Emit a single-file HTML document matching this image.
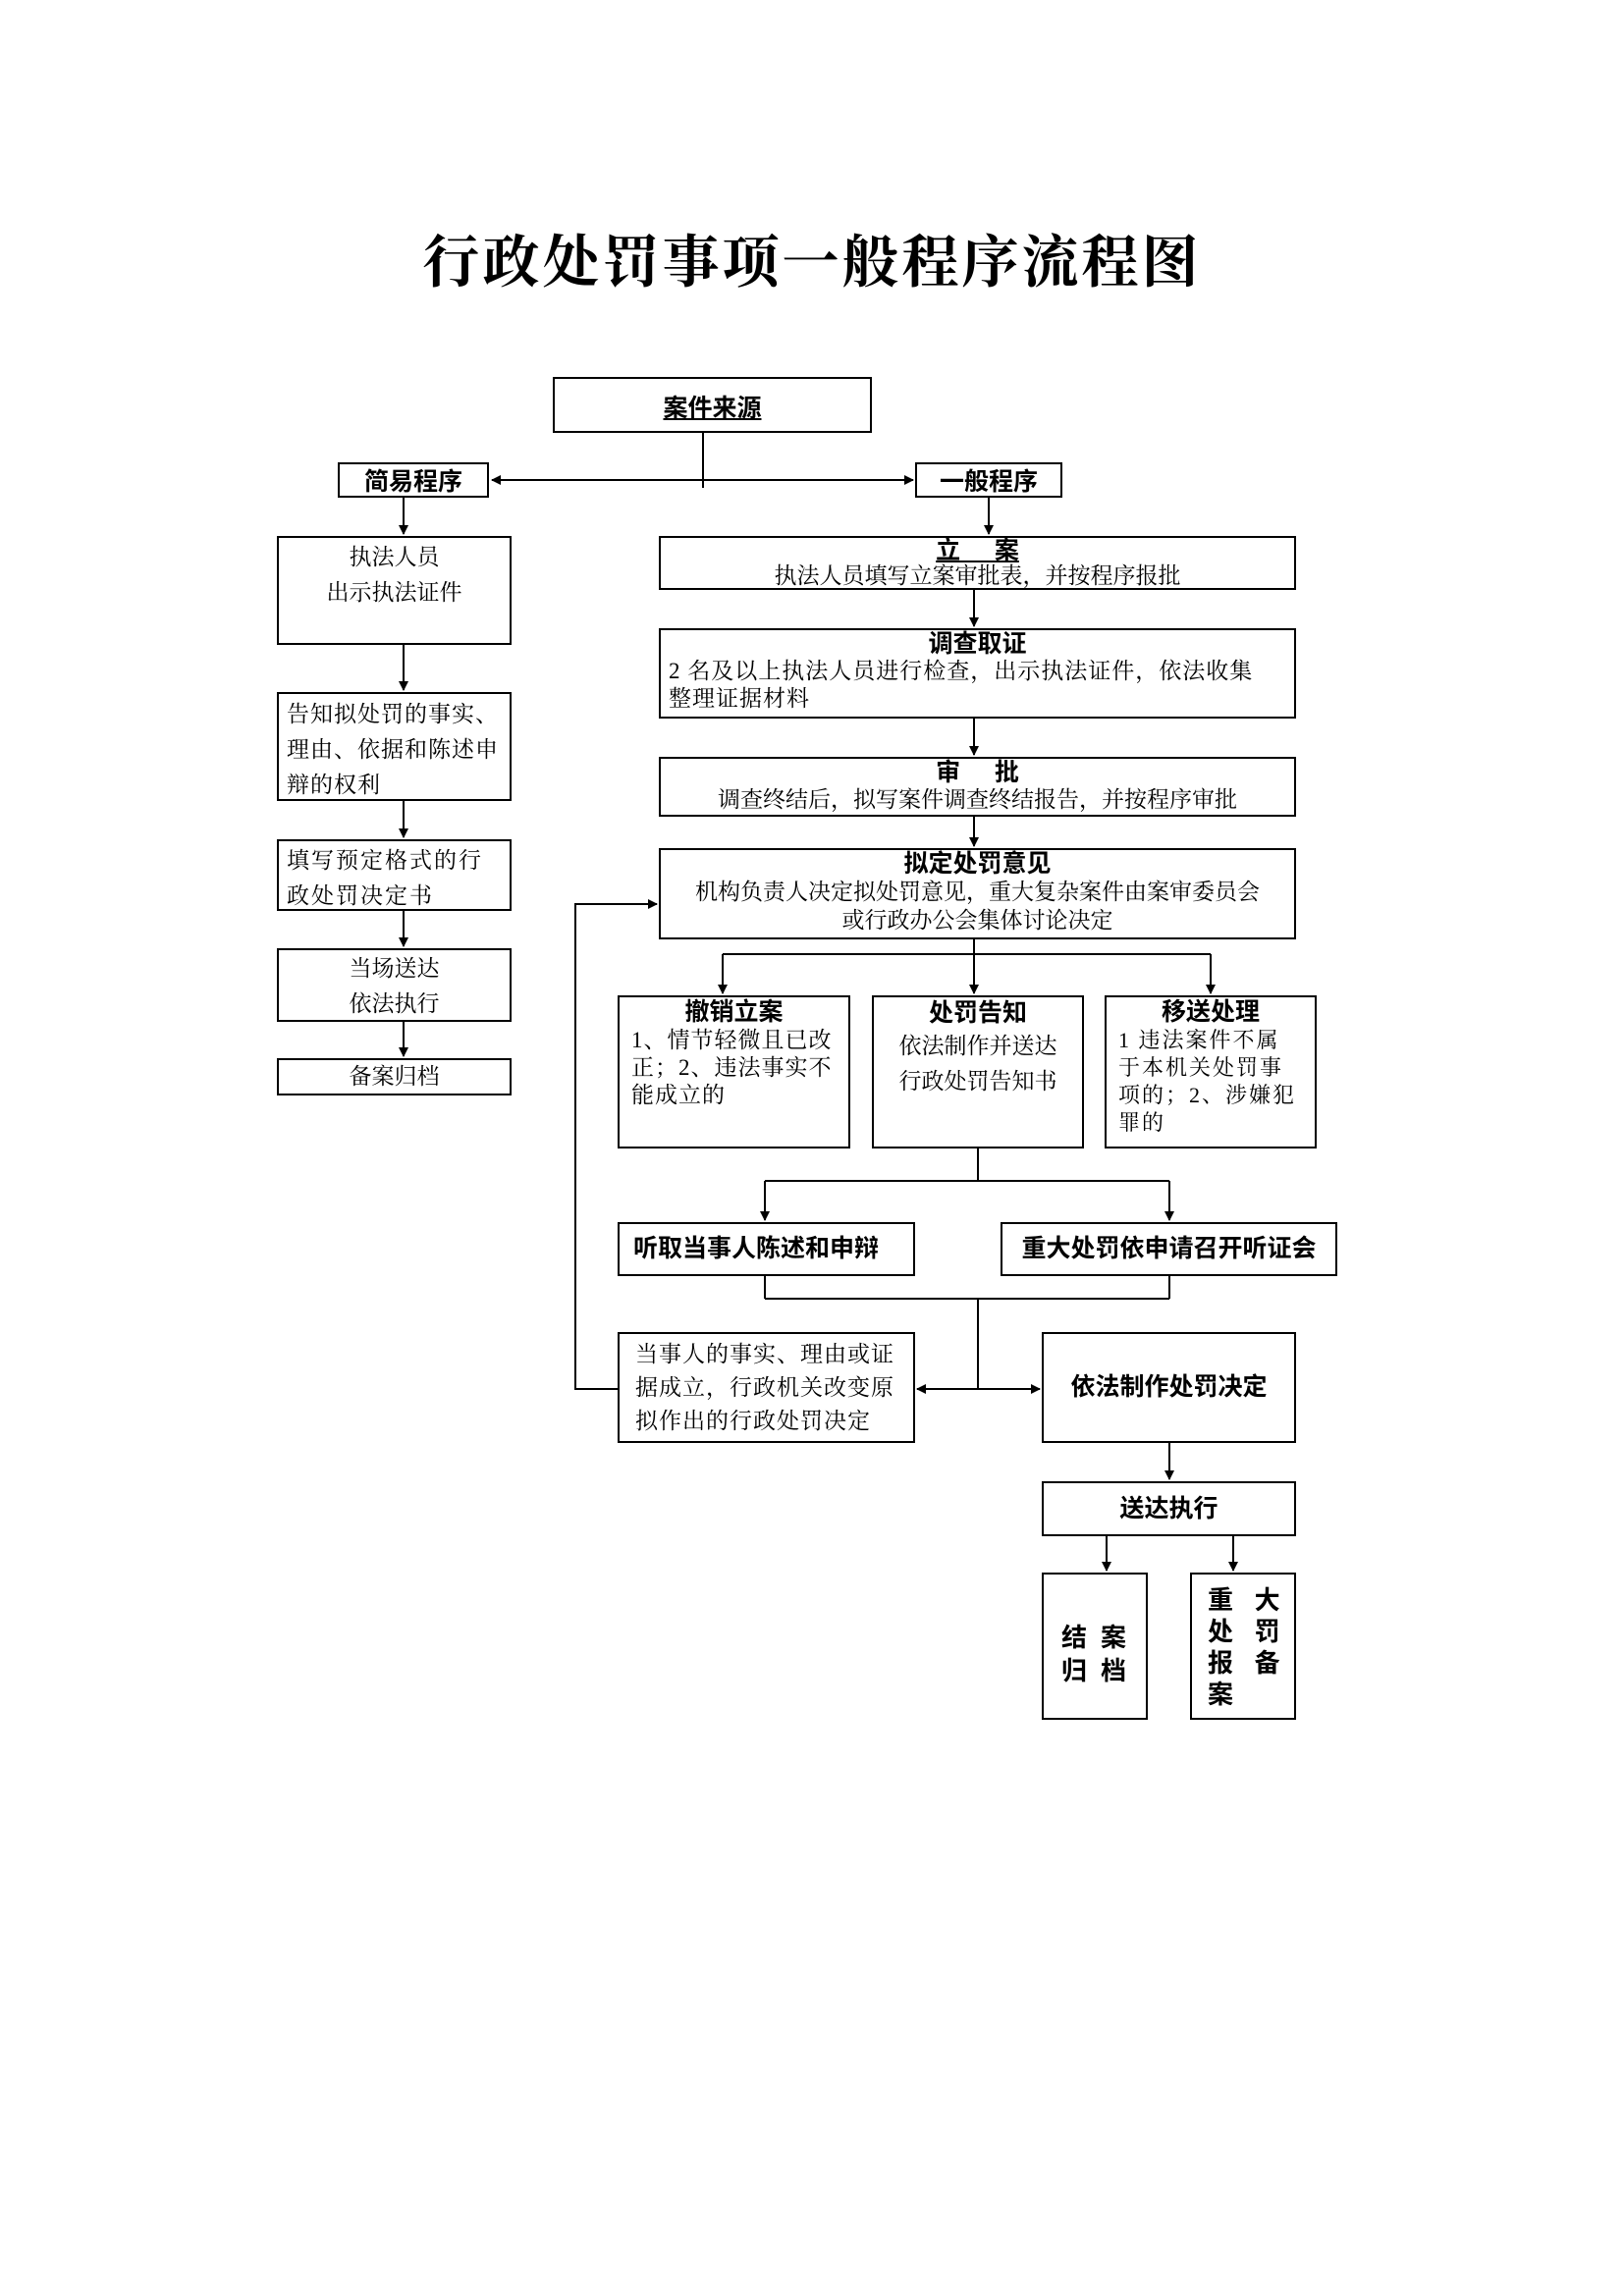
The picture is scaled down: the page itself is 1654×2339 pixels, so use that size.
<!DOCTYPE html>
<html><head><meta charset="utf-8">
<style>
body{margin:0;background:#fff;}
#pg{position:relative;width:1654px;height:2339px;background:#fff;overflow:hidden;font-family:"Liberation Serif","Noto Serif CJK SC",serif;color:#000;}
#in{position:absolute;left:-4px;top:-3px;width:1654px;height:2339px;}
.b{position:absolute;border:2px solid #000;box-sizing:border-box;background:#fff;}
.t{position:absolute;white-space:nowrap;}
.h{font-family:"Liberation Sans","Noto Sans CJK SC",sans-serif;font-weight:bold;}
.c{text-align:center;}
</style></head><body><div id="pg">
<div class="t" style="left:0;width:1654px;top:220px;font-size:58px;letter-spacing:3px;font-weight:bold;text-align:center;font-family:'Liberation Serif','Noto Serif CJK SC',serif;">行政处罚事项一般程序流程图</div>
<div id="in">
<svg style="position:absolute;left:0;top:0" width="1654" height="2339">
<defs><marker id="a" markerWidth="10" markerHeight="10" refX="9" refY="5" orient="auto" markerUnits="userSpaceOnUse"><path d="M0,0 L10,5 L0,10 z"/></marker></defs>
<g stroke="#000" stroke-width="2" fill="none">
<line x1="720" y1="444" x2="720" y2="500"/>
<line x1="720" y1="492" x2="505" y2="492" marker-end="url(#a)"/>
<line x1="720" y1="492" x2="934" y2="492" marker-end="url(#a)"/>
<line x1="415" y1="510" x2="415" y2="547" marker-end="url(#a)"/>
<line x1="415" y1="660" x2="415" y2="706" marker-end="url(#a)"/>
<line x1="415" y1="819" x2="415" y2="856" marker-end="url(#a)"/>
<line x1="415" y1="931" x2="415" y2="967" marker-end="url(#a)"/>
<line x1="415" y1="1044" x2="415" y2="1079" marker-end="url(#a)"/>
<line x1="1011" y1="510" x2="1011" y2="547" marker-end="url(#a)"/>
<line x1="996" y1="604" x2="996" y2="641" marker-end="url(#a)"/>
<line x1="996" y1="735" x2="996" y2="772" marker-end="url(#a)"/>
<line x1="996" y1="835" x2="996" y2="865" marker-end="url(#a)"/>
<line x1="996" y1="960" x2="996" y2="975"/>
<line x1="740" y1="975" x2="1237" y2="975"/>
<line x1="740" y1="975" x2="740" y2="1015" marker-end="url(#a)"/>
<line x1="996" y1="975" x2="996" y2="1015" marker-end="url(#a)"/>
<line x1="1237" y1="975" x2="1237" y2="1015" marker-end="url(#a)"/>
<line x1="1000" y1="1173" x2="1000" y2="1206"/>
<line x1="783" y1="1206" x2="1195" y2="1206"/>
<line x1="783" y1="1206" x2="783" y2="1246" marker-end="url(#a)"/>
<line x1="1195" y1="1206" x2="1195" y2="1246" marker-end="url(#a)"/>
<line x1="783" y1="1303" x2="783" y2="1326"/>
<line x1="1195" y1="1303" x2="1195" y2="1326"/>
<line x1="783" y1="1326" x2="1195" y2="1326"/>
<line x1="1000" y1="1326" x2="1000" y2="1418"/>
<line x1="1000" y1="1418" x2="938" y2="1418" marker-end="url(#a)"/>
<line x1="1000" y1="1418" x2="1063" y2="1418" marker-end="url(#a)"/>
<polyline points="633,1418 590,1418 590,924 673,924" marker-end="url(#a)"/>
<line x1="1195" y1="1473" x2="1195" y2="1510" marker-end="url(#a)"/>
<line x1="1131" y1="1568" x2="1131" y2="1603" marker-end="url(#a)"/>
<line x1="1260" y1="1568" x2="1260" y2="1603" marker-end="url(#a)"/>
</g></svg>

<div class="b" style="left:567px;top:387px;width:325px;height:57px;"><div class="t h c" style="left:0;right:0;top:10px;font-size:25px;text-decoration:underline;">案件来源</div></div>
<div class="b" style="left:348px;top:474px;width:154px;height:36px;"><div class="t h c" style="left:0;right:0;top:-2px;font-size:25px;">简易程序</div></div>
<div class="b" style="left:936px;top:474px;width:150px;height:36px;"><div class="t h c" style="left:0;right:0;top:-2px;font-size:25px;">一般程序</div></div>

<div class="b" style="left:286px;top:549px;width:239px;height:111px;font-size:23px;line-height:36px;text-align:center;padding-top:2px;">执法人员<br>出示执法证件</div>
<div class="b" style="left:286px;top:708px;width:239px;height:111px;font-size:23px;line-height:36px;padding:3px 0 0 8px;letter-spacing:1px;">告知拟处罚的事实、<br>理由、依据和陈述申<br>辩的权利</div>
<div class="b" style="left:286px;top:858px;width:239px;height:73px;font-size:23px;line-height:36px;padding:2px 0 0 8px;letter-spacing:2px;">填写预定格式的行<br>政处罚决定书</div>
<div class="b" style="left:286px;top:969px;width:239px;height:75px;font-size:23px;line-height:36px;text-align:center;padding-top:1px;">当场送达<br>依法执行</div>
<div class="b" style="left:286px;top:1081px;width:239px;height:38px;font-size:23px;line-height:34px;text-align:center;">备案归档</div>

<div class="b" style="left:675px;top:549px;width:649px;height:55px;text-align:center;">
<div class="h" style="font-size:25px;line-height:26px;text-decoration:underline;">立&nbsp;&nbsp;&nbsp;&nbsp;&nbsp;案</div>
<div style="font-size:23px;line-height:26px;">执法人员填写立案审批表，并按程序报批</div></div>
<div class="b" style="left:675px;top:643px;width:649px;height:92px;">
<div class="h c" style="font-size:25px;line-height:28px;">调查取证</div>
<div style="font-size:23px;line-height:28px;padding-left:8px;letter-spacing:1px;">2 名及以上执法人员进行检查，出示执法证件，依法收集<br>整理证据材料</div></div>
<div class="b" style="left:675px;top:774px;width:649px;height:61px;text-align:center;">
<div class="h" style="font-size:25px;line-height:28px;">审&nbsp;&nbsp;&nbsp;&nbsp;&nbsp;批</div>
<div style="font-size:23px;line-height:28px;">调查终结后，拟写案件调查终结报告，并按程序审批</div></div>
<div class="b" style="left:675px;top:867px;width:649px;height:93px;text-align:center;">
<div class="h" style="font-size:25px;line-height:28px;">拟定处罚意见</div>
<div style="font-size:23px;line-height:29px;">机构负责人决定拟处罚意见，重大复杂案件由案审委员会<br>或行政办公会集体讨论决定</div></div>

<div class="b" style="left:633px;top:1017px;width:237px;height:156px;">
<div class="h c" style="font-size:25px;line-height:30px;">撤销立案</div>
<div style="font-size:23px;line-height:28px;padding-left:12px;letter-spacing:1px;">1、情节轻微且已改<br>正；2、违法事实不<br>能成立的</div></div>
<div class="b" style="left:892px;top:1017px;width:216px;height:156px;text-align:center;">
<div class="h" style="font-size:25px;line-height:32px;">处罚告知</div>
<div style="font-size:23px;line-height:36px;">依法制作并送达<br>行政处罚告知书</div></div>
<div class="b" style="left:1129px;top:1017px;width:216px;height:156px;">
<div class="h c" style="font-size:25px;line-height:30px;">移送处理</div>
<div style="font-size:22px;line-height:28px;padding-left:12px;letter-spacing:2px;">1 违法案件不属<br>于本机关处罚事<br>项的；2、涉嫌犯<br>罪的</div></div>

<div class="b h" style="left:633px;top:1248px;width:303px;height:55px;font-size:25px;line-height:51px;padding-left:14px;">听取当事人陈述和申辩</div>
<div class="b h c" style="left:1023px;top:1248px;width:343px;height:55px;font-size:25px;line-height:51px;">重大处罚依申请召开听证会</div>

<div class="b" style="left:633px;top:1360px;width:303px;height:113px;font-size:23px;line-height:34px;padding:4px 0 0 16px;letter-spacing:1px;">当事人的事实、理由或证<br>据成立，行政机关改变原<br>拟作出的行政处罚决定</div>
<div class="b h c" style="left:1065px;top:1360px;width:259px;height:113px;font-size:25px;line-height:109px;">依法制作处罚决定</div>
<div class="b h c" style="left:1065px;top:1512px;width:259px;height:56px;font-size:25px;line-height:52px;">送达执行</div>

<div class="b h" style="left:1065px;top:1605px;width:108px;height:150px;font-size:26px;line-height:34px;padding:47px 0 0 18px;letter-spacing:14px;">结案<br>归档</div>
<div class="b h" style="left:1216px;top:1605px;width:108px;height:150px;font-size:26px;line-height:32px;padding:10px 0 0 16px;letter-spacing:0;">重&nbsp;&nbsp;&nbsp;大<br>处&nbsp;&nbsp;&nbsp;罚<br>报&nbsp;&nbsp;&nbsp;备<br>案</div>
</div></div></body></html>
